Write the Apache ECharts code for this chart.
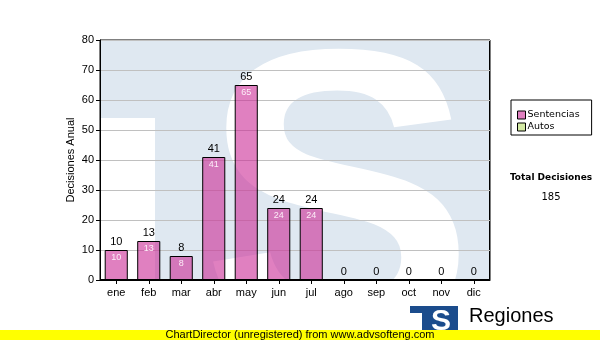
<!DOCTYPE html>
<html>
<head>
<meta charset="utf-8">
<script src="https://cdn.jsdelivr.net/npm/echarts@6/dist/echarts.min.js"></script>
<style>
html,body{margin:0;padding:0;background:#fff;}
#chart{width:600px;height:340px;}
</style>
</head>
<body>
<div id="chart"></div>
<script>
const months = ['ene','feb','mar','abr','may','jun','jul','ago','sep','oct','nov','dic'];
const sentencias = [10,13,8,41,65,24,24,0,0,0,0,0];
const autos = [0,0,0,0,0,0,0,0,0,0,0,0];
const yMin = 0, yMax = 80, yStep = 10;
const yTitle = 'Decisiones Anual';
const seriesNames = ['Sentencias','Autos'];
const totalTitle = 'Total Decisiones';
const footer = 'ChartDirector (unregistered) from www.advsofteng.com';
const logoText = 'Regiones';

const totals = months.map((m,i)=>sentencias[i]+autos[i]);
const grandTotal = totals.reduce((a,b)=>a+b,0);

const chart = echarts.init(document.getElementById('chart'), null, {renderer:'canvas'});
const AR = '"Liberation Sans", Arial, sans-serif';
const DV = '"DejaVu Sans", Verdana, sans-serif';
const PINK = 'rgba(203,43,150,0.6)';
const GREEN = '#d4eaa4';

chart.setOption({
  animation:false,
  backgroundColor:'#fff',
  grid:{left:100,right:110,top:40,bottom:60,show:true,borderColor:'#000',borderWidth:1,backgroundColor:'transparent'},
  legend:{
    orient:'vertical', left:511, top:100,
    borderColor:'#000', borderWidth:1, padding:[10,12,3,6],
    itemWidth:8, itemHeight:8, itemGap:2,
    icon:'rect',
    textStyle:{fontFamily:DV,fontSize:9.5,color:'#000',padding:[0,0,0,-3]},
    data:[
      {name:seriesNames[0], itemStyle:{color:'#e080c0',borderColor:'#000',borderWidth:1,opacity:1}},
      {name:seriesNames[1], itemStyle:{color:GREEN,borderColor:'#000',borderWidth:1,opacity:1}}
    ]
  },
  xAxis:{
    type:'category', data:months,
    axisLine:{show:true,lineStyle:{color:'#000',width:1}},
    axisTick:{show:true,alignWithLabel:true,length:4,lineStyle:{color:'#000'}},
    axisLabel:{fontFamily:AR,fontSize:11,color:'#000',margin:7}
  },
  yAxis:{
    type:'value', min:yMin, max:yMax, interval:yStep,
    name:yTitle, nameLocation:'middle', nameGap:24, nameRotate:90, nameMoveOverlap:false,
    nameTextStyle:{fontFamily:AR,fontSize:11,color:'#000'},
    axisLine:{show:true,lineStyle:{color:'#000',width:1}},
    axisTick:{show:true,length:4,lineStyle:{color:'#000'}},
    axisLabel:{fontFamily:AR,fontSize:11,color:'#000',margin:6},
    splitLine:{show:true,lineStyle:{color:'#c0c0c0',width:1}}
  },
  graphic:[
    {type:'rect', z:-10, silent:true, shape:{x:100,y:40,width:390,height:240}, style:{fill:'#dfe8f1'}},
    {type:'rect', z:-9, silent:true, shape:{x:100,y:118,width:55,height:162}, style:{fill:'#fff'}},
    {type:'text', z:-8, silent:true, style:{x:338,y:222,text:'S',font:'bold 410px "Liberation Sans", Arial, sans-serif',fill:'#fff',align:'center',verticalAlign:'middle'}},
    {type:'rect', z:-7, silent:true, shape:{x:100.5,y:40.5,width:389,height:239}, style:{fill:'none',stroke:'#000',lineWidth:1}},
    {type:'text', z:5, silent:true, style:{x:551,y:178,text:totalTitle,font:'bold 9px "DejaVu Sans", Verdana, sans-serif',fill:'#000',align:'center',verticalAlign:'middle'}},
    {type:'text', z:5, silent:true, style:{x:551,y:197,text:String(grandTotal),font:'10px "DejaVu Sans", Verdana, sans-serif',fill:'#000',align:'center',verticalAlign:'middle'}},
    {type:'rect', z:5, silent:true, shape:{x:410,y:306,width:48,height:30}, style:{fill:'#1b4c8c'}},
    {type:'rect', z:6, silent:true, shape:{x:410,y:313,width:12,height:23}, style:{fill:'#fff'}},
    {type:'text', z:6, silent:true, style:{x:441,y:322,text:'S',font:'bold 30px "Liberation Sans", Arial, sans-serif',fill:'#fff',align:'center',verticalAlign:'middle'}},
    {type:'text', z:5, silent:true, style:{x:469,y:316,text:logoText,font:'20px "Liberation Sans", Arial, sans-serif',fill:'#000',align:'left',verticalAlign:'middle'}},
    {type:'rect', z:10, silent:true, shape:{x:0,y:330,width:600,height:10}, style:{fill:'#ffff00'}},
    {type:'text', z:11, silent:true, style:{x:300,y:335,text:footer,font:'11px "Liberation Sans", Arial, sans-serif',fill:'#000',align:'center',verticalAlign:'middle'}}
  ],
  series:[
    {
      name:seriesNames[0], type:'bar', stack:'t', data:sentencias,
      barCategoryGap:'29%',
      itemStyle:{color:PINK,borderColor:'#000',borderWidth:1},
      label:{show:true,position:'insideTop',distance:3,fontFamily:AR,fontSize:9,color:'#fdeef8',
        formatter:p=>p.value?String(p.value):''}
    },
    {
      name:seriesNames[1], type:'bar', stack:'t', data:autos,
      itemStyle:{color:GREEN,borderColor:'#000',borderWidth:0},
      label:{show:true,position:'top',distance:3,fontFamily:AR,fontSize:11,color:'#000',
        formatter:p=>String(totals[p.dataIndex])}
    }
  ]
});
</script>
</body>
</html>
